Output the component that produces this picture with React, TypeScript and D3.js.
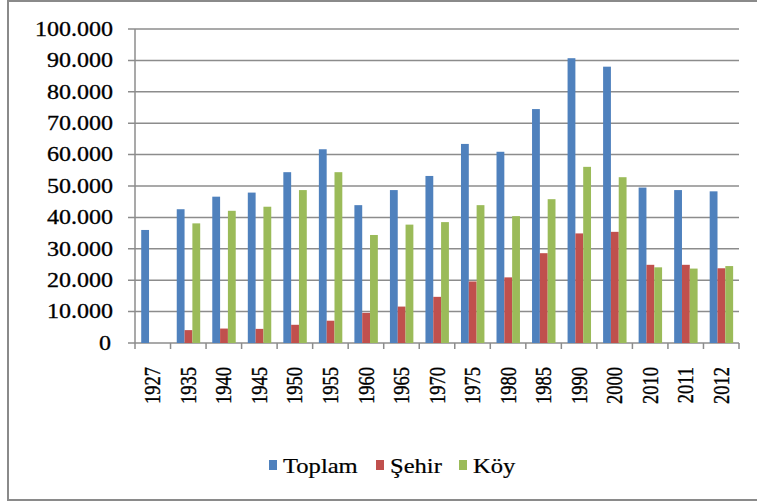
import * as d3 from "d3";

const years = ["1927", "1935", "1940", "1945", "1950", "1955", "1960", "1965", "1970", "1975", "1980", "1985", "1990", "2000", "2010", "2011", "2012"];
const toplam = [36000, 42600, 46600, 47900, 54400, 61700, 43900, 48700, 53200, 63400, 60900, 74500, 90700, 88000, 49500, 48700, 48300];
const sehir = [0, 4100, 4600, 4500, 5800, 7100, 9600, 11600, 14700, 19600, 20900, 28600, 34900, 35400, 24900, 24900, 23800];
const koy = [0, 38100, 42100, 43400, 48700, 54400, 34400, 37700, 38500, 43900, 40400, 45800, 56100, 52800, 24100, 23700, 24500];
const seriesNames = ["Toplam", "Şehir", "Köy"];
const seriesColors = ["#4f81bd", "#c0504d", "#9bbb59"];
const yTicks = [0, 10000, 20000, 30000, 40000, 50000, 60000, 70000, 80000, 90000, 100000];

const W = 757;
const H = 504;
const left = 135;
const right = 739;
const top = 29;
const bottom = 343;
const textStyle = { fontFamily: "'Times New Roman', 'Liberation Serif', 'DejaVu Serif', serif" };
const sx = 1.2; // the source picture is stretched horizontally

const fmt = (v: number) => (v === 0 ? "0" : d3.format(",")(v).replace(/,/g, "."));

export default function App() {
  const series = [toplam, sehir, koy];
  const x0 = d3.scaleBand<string>().domain(years).range([left, right]).padding(0);
  const bw = x0.bandwidth();
  const x1 = d3
    .scaleBand<number>()
    .domain([0, 1, 2])
    .range([bw * 0.175, bw * 0.835])
    .padding(0);
  const y = d3.scaleLinear().domain([0, 100000]).range([bottom, top]);

  // legend layout
  const legendX = [269, 376, 459];

  return (
    <svg width={W} height={H} style={{ position: "absolute", left: 0, top: 0, background: "#fff" }}>
      <rect x={0} y={0} width={W} height={H} fill="#fff" />
      <rect x={8} y={1} width={W + 10} height={499} fill="none" stroke="#8a8a8a" strokeWidth={2} />

      {/* grid + y labels */}
      {yTicks.map((t) => (
        <g key={t}>
          <line x1={128} x2={right} y1={y(t)} y2={y(t)} stroke="#8c8c8c" strokeWidth={1.5} />
          <g transform={`translate(${t === 0 ? 111 : 113},${y(t)}) scale(${sx},1)`}>
            <text
              textAnchor="end"
              dominantBaseline="central"
              fontSize={20}
              fill="#000"
              stroke="#000"
              strokeWidth={0.3}
              style={textStyle}
            >
              {fmt(t)}
            </text>
          </g>
        </g>
      ))}
      <line x1={left} x2={left} y1={top} y2={bottom} stroke="#8c8c8c" strokeWidth={1.5} />

      {/* x ticks */}
      {years.map((yr) => (
        <line key={yr} x1={x0(yr)!} x2={x0(yr)!} y1={bottom} y2={bottom + 6} stroke="#8c8c8c" strokeWidth={1.5} />
      ))}
      <line x1={right} x2={right} y1={bottom} y2={bottom + 6} stroke="#8c8c8c" strokeWidth={1.5} />

      {/* bars */}
      {years.map((yr, i) => (
        <g key={yr} transform={`translate(${x0(yr)},0)`}>
          {series.map((s, k) =>
            s[i] > 0 ? (
              <rect
                key={k}
                x={x1(k)!}
                width={x1.bandwidth()}
                y={y(s[i])}
                height={bottom - y(s[i])}
                fill={seriesColors[k]}
              />
            ) : null
          )}
        </g>
      ))}

      {/* year labels */}
      {years.map((yr) => (
        <g key={yr} transform={`translate(${x0(yr)! + bw / 2},${367}) scale(${sx},1) rotate(-90)`}>
          <text
            textAnchor="end"
            dominantBaseline="central"
            fontSize={18.5}
            fill="#000"
            stroke="#000"
            strokeWidth={0.3}
            style={textStyle}
          >
            {yr}
          </text>
        </g>
      ))}

      {/* legend */}
      {seriesNames.map((n, k) => (
        <g key={n}>
          <rect x={legendX[k]} y={460} width={8} height={10} fill={seriesColors[k]} />
          <g transform={`translate(${legendX[k] + 14},${473}) scale(${sx},1)`}>
            <text fontSize={20.5} fill="#000" stroke="#000" strokeWidth={0.2} style={textStyle}>
              {n}
            </text>
          </g>
        </g>
      ))}
    </svg>
  );
}
